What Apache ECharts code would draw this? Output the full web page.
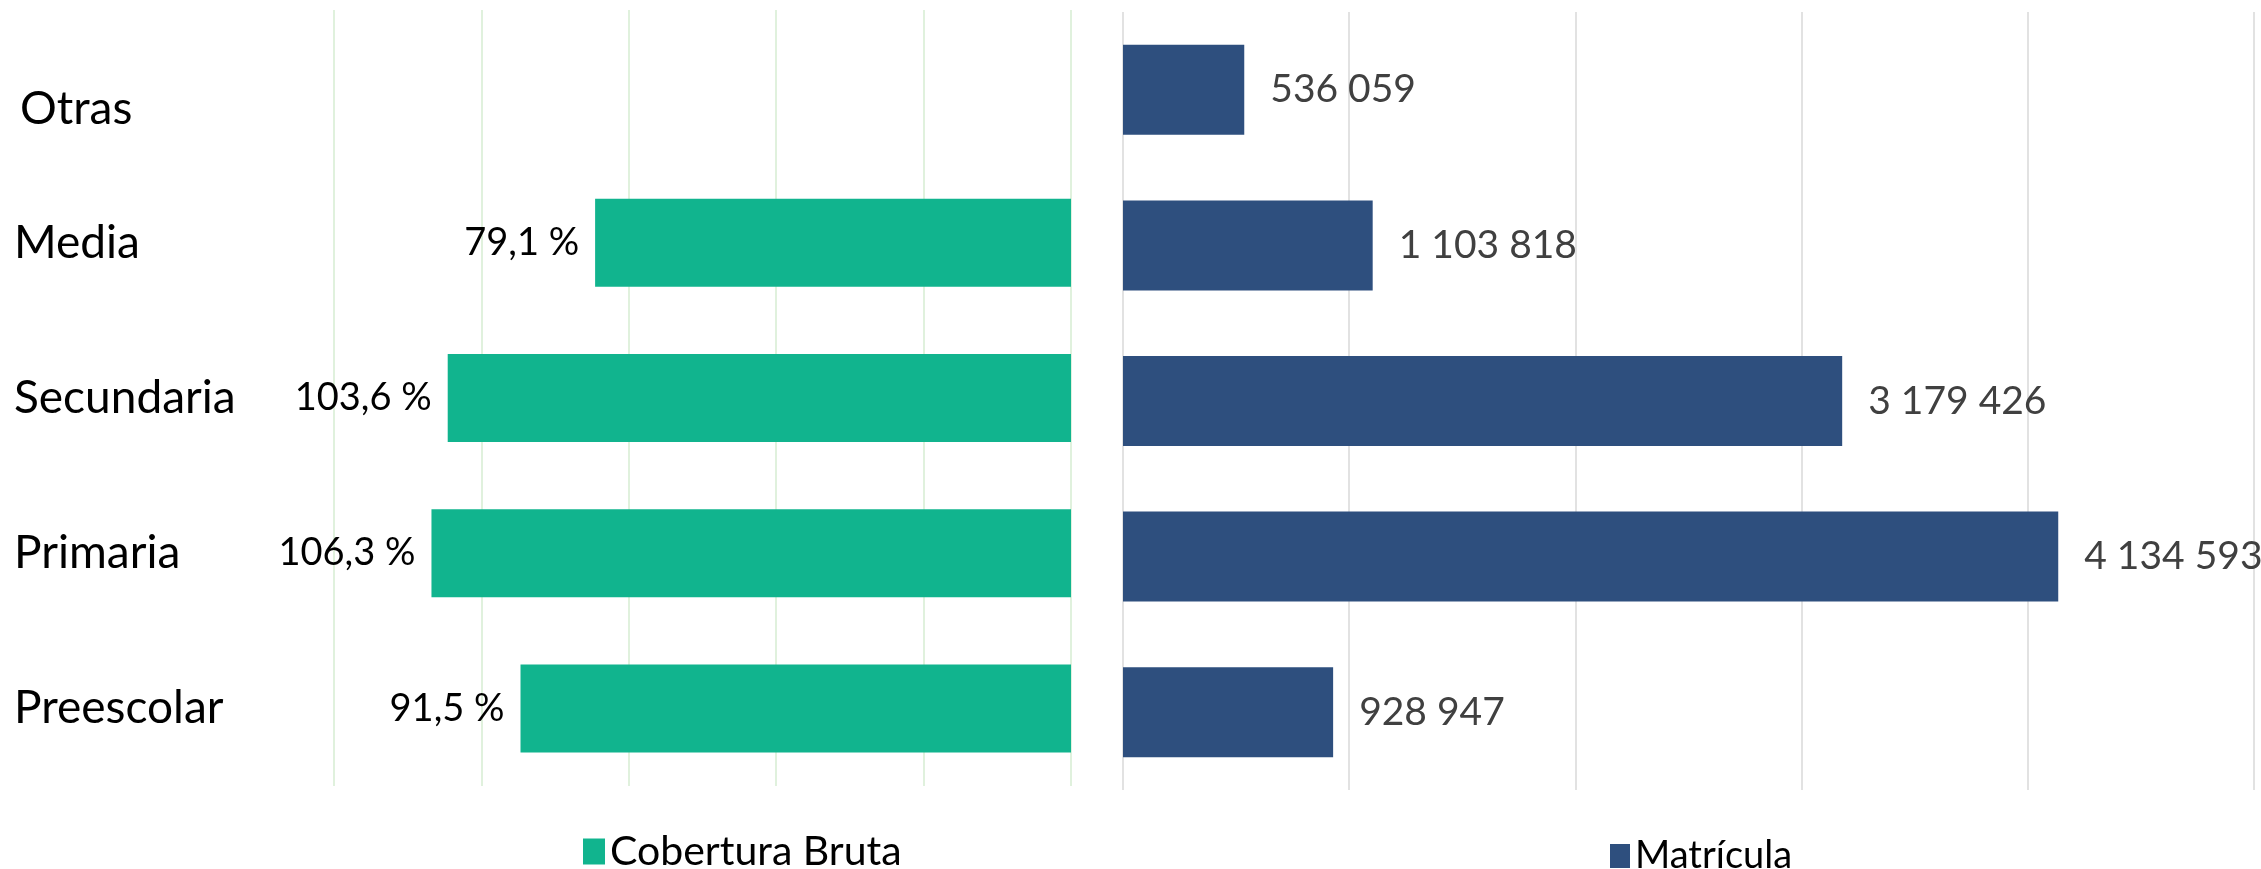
<!DOCTYPE html>
<html>
<head>
<meta charset="utf-8">
<script src="https://cdn.jsdelivr.net/npm/echarts@6/dist/echarts.min.js"></script>
<style>
  html, body { margin: 0; padding: 0; background: #fff; }
  #grafico { width: 2261px; height: 869px; }
</style>
</head>
<body>
<div id="grafico"></div>
<script>
// categorias de baixo para cima (eixo de categoria do ECharts começa embaixo)
const niveles = ['Preescolar', 'Primaria', 'Secundaria', 'Media', 'Otras']
const cobertura = [91.5, 106.3, 103.6, 79.1, null]
const matricula = [928947, 4134593, 3179426, 1103818, 536059]

const FONTE = 'Lato, "Open Sans", sans-serif'

const fmtMiles = v => String(v).replace(/\B(?=(\d{3})+(?!\d))/g, ' ')
const fmtPct = v => v.toFixed(1).replace('.', ',') + ' %'

const chart = echarts.init(document.getElementById('grafico'))

chart.setOption({
  animation: false,
  backgroundColor: '#ffffff',
  textStyle: { fontFamily: FONTE },
  legend: [
    {
      data: ['Cobertura Bruta'],
      icon: 'rect',
      left: 578, top: 826,
      itemWidth: 22, itemHeight: 26, itemGap: 10,
      textStyle: { fontSize: 41, color: '#000', fontFamily: FONTE }
    },
    {
      data: ['Matrícula'],
      icon: 'rect',
      left: 1605, top: 832,
      itemWidth: 20, itemHeight: 24, itemGap: 8,
      textStyle: { fontSize: 38, color: '#000', fontFamily: FONTE }
    }
  ],
  grid: [
    { left: 334, width: 737, top: 10, height: 776 },
    { left: 1123, width: 1131, top: 12, height: 778 }
  ],
  xAxis: [
    {
      type: 'value', gridIndex: 0, inverse: true,
      min: 0, max: 122.5, interval: 24.5,
      axisLabel: { show: false }, axisTick: { show: false }, axisLine: { show: false },
      splitLine: { show: true, lineStyle: { color: '#d6ecd2', width: 1.5 } }
    },
    {
      type: 'value', gridIndex: 1,
      min: 0, max: 5000000, interval: 1000000,
      axisLabel: { show: false }, axisTick: { show: false }, axisLine: { show: false },
      splitLine: { show: true, lineStyle: { color: '#d9d9d9', width: 1.5 } }
    }
  ],
  yAxis: [
    {
      type: 'category', gridIndex: 0, data: niveles, position: 'left',
      axisLine: { show: false, onZero: false }, axisTick: { show: false },
      axisLabel: {
        align: 'left', margin: 320, fontSize: 46, color: '#000', fontFamily: FONTE,
        // "Otras" fica um pouco abaixo do centro da faixa no original
        formatter: v => v === 'Otras' ? '{baixo|' + v + '}' : v,
        rich: { baixo: { fontSize: 46, color: '#000', fontFamily: FONTE, padding: [44, 0, 0, 6] } }
      }
    },
    {
      type: 'category', gridIndex: 1, data: niveles,
      axisLine: { show: false, onZero: false }, axisTick: { show: false },
      axisLabel: { show: false }
    }
  ],
  series: [
    {
      name: 'Cobertura Bruta', type: 'bar',
      xAxisIndex: 0, yAxisIndex: 0,
      data: cobertura, barWidth: 88,
      itemStyle: { color: '#11b48e' },
      label: {
        show: true, position: 'left', distance: 16,
        formatter: p => p.value == null ? '' : fmtPct(p.value),
        fontSize: 38, color: '#000', fontFamily: FONTE
      }
    },
    {
      name: 'Matrícula', type: 'bar',
      xAxisIndex: 1, yAxisIndex: 1,
      data: matricula, barWidth: 90,
      itemStyle: { color: '#2e4f7e' },
      label: {
        show: true, position: 'right', distance: 26,
        formatter: p => fmtMiles(p.value),
        fontSize: 39, color: '#404040', fontFamily: FONTE
      }
    }
  ]
})
</script>
</body>
</html>
